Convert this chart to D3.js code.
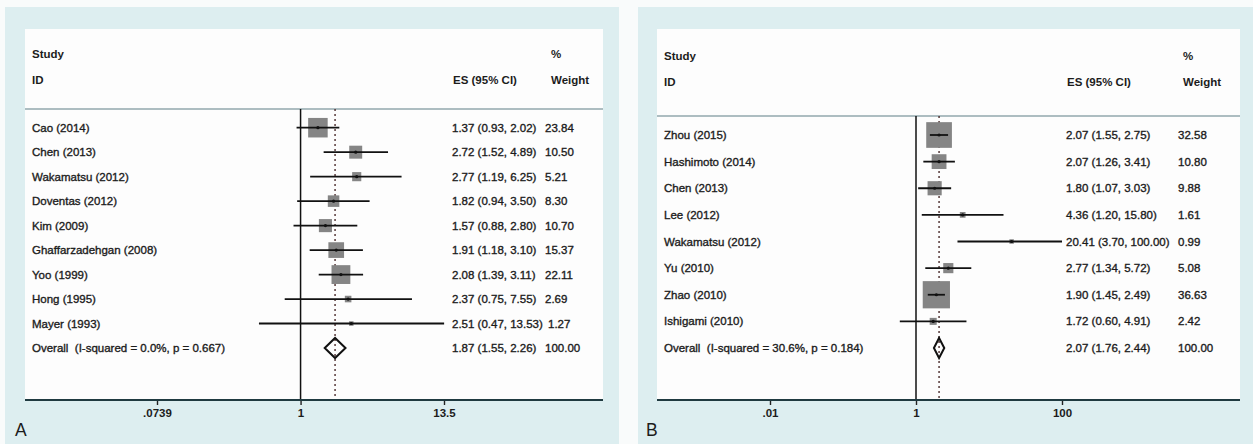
<!DOCTYPE html>
<html>
<head>
<meta charset="utf-8">
<script src="https://cdn.jsdelivr.net/npm/d3@7"></script>
<style>
  html, body { margin: 0; padding: 0; background: #ffffff; }
  svg { display: block; }
  text { font-family: "Liberation Sans", Arial, sans-serif; fill: #1c1c1c; white-space: pre; }
  .body text { stroke: #1c1c1c; stroke-width: 0.35px; }
</style>
</head>
<body>
<svg id="chart" width="1253" height="444"></svg>
<script>
// ---- Panel A: study-level odds ratios ----
const studiesA = ["Cao (2014)", "Chen (2013)", "Wakamatsu (2012)", "Doventas (2012)", "Kim (2009)",
                  "Ghaffarzadehgan (2008)", "Yoo (1999)", "Hong (1995)", "Mayer (1993)"];
const esA      = [1.37, 2.72, 2.77, 1.82, 1.57, 1.91, 2.08, 2.37, 2.51];
const lowA     = [0.93, 1.52, 1.19, 0.94, 0.88, 1.18, 1.39, 0.75, 0.47];
const highA    = [2.02, 4.89, 6.25, 3.50, 2.80, 3.10, 3.11, 7.55, 13.53];
const weightA  = [23.84, 10.50, 5.21, 8.30, 10.70, 15.37, 22.11, 2.69, 1.27];
const overallA = { label: "Overall  (I-squared = 0.0%, p = 0.667)", es: 1.87, low: 1.55, high: 2.26, weight: 100.00 };
const ticksA   = [0.0739, 1, 13.5];
const tickLabelsA = [".0739", "1", "13.5"];

// ---- Panel B: study-level odds ratios ----
const studiesB = ["Zhou (2015)", "Hashimoto (2014)", "Chen (2013)", "Lee (2012)", "Wakamatsu (2012)",
                  "Yu (2010)", "Zhao (2010)", "Ishigami (2010)"];
const esB      = [2.07, 2.07, 1.80, 4.36, 20.41, 2.77, 1.90, 1.72];
const lowB     = [1.55, 1.26, 1.07, 1.20, 3.70, 1.34, 1.45, 0.60];
const highB    = [2.75, 3.41, 3.03, 15.80, 100.00, 5.72, 2.49, 4.91];
const weightB  = [32.58, 10.80, 9.88, 1.61, 0.99, 5.08, 36.63, 2.42];
const overallB = { label: "Overall  (I-squared = 30.6%, p = 0.184)", es: 2.07, low: 1.76, high: 2.44, weight: 100.00 };
const ticksB   = [0.01, 1, 100];
const tickLabelsB = [".01", "1", "100"];

const fmt = d3.format(".2f");
const svg = d3.select("#chart");

// page background
svg.append("rect").attr("width", 1253).attr("height", 444).attr("fill", "#f9fbfb");

function drawPanel(cfg) {
  const g = svg.append("g");
  // outer tinted frame
  g.append("rect").attr("x", cfg.frame[0]).attr("y", cfg.frame[1])
    .attr("width", cfg.frame[2] - cfg.frame[0]).attr("height", cfg.frame[3] - cfg.frame[1])
    .attr("fill", "#ddeef0");
  // plot region
  g.append("rect").attr("x", cfg.plot[0]).attr("y", cfg.plot[1])
    .attr("width", cfg.plot[2] - cfg.plot[0]).attr("height", cfg.plot[3] - cfg.plot[1])
    .attr("fill", "#fdfdfd");

  const rows = cfg.studies.map((s, i) => ({
    label: s, es: cfg.es[i], low: cfg.low[i], high: cfg.high[i], weight: cfg.weight[i]
  }));
  const allKeys = cfg.studies.concat([cfg.overall.label]);

  const x = d3.scaleLog().domain([cfg.ticks[0], cfg.ticks[2]]).range(cfg.tickRange);
  const y = d3.scalePoint().domain(allKeys).range(cfg.rowRange);

  const top = cfg.headerLine, bottom = cfg.plot[3];

  // header rule
  g.append("line").attr("x1", cfg.plot[0]).attr("x2", cfg.plot[2])
    .attr("y1", top).attr("y2", top).attr("stroke", "#5f7f86").attr("stroke-width", 1.2);

  // header text
  const hdr = g.append("g").attr("font-size", 11.5).attr("font-weight", "bold");
  hdr.append("text").attr("x", cfg.labelX).attr("y", cfg.headY[0] + 4).text("Study");
  hdr.append("text").attr("x", cfg.labelX).attr("y", cfg.headY[1] + 4).text("ID");
  hdr.append("text").attr("x", cfg.esX + 1).attr("y", cfg.headY[1] + 4).text("ES (95% CI)");
  hdr.append("text").attr("x", cfg.wHeadX).attr("y", cfg.headY[0] + 4).text("%");
  hdr.append("text").attr("x", cfg.wHeadX).attr("y", cfg.headY[1] + 4).text("Weight");

  // line of no effect
  g.append("line").attr("x1", x(1)).attr("x2", x(1)).attr("y1", top).attr("y2", bottom)
    .attr("stroke", "#111").attr("stroke-width", 1.5);

  // pooled-estimate reference line
  g.append("line").attr("x1", x(cfg.overall.es)).attr("x2", x(cfg.overall.es))
    .attr("y1", top).attr("y2", bottom)
    .attr("stroke", "#4a2c2c").attr("stroke-width", 1.4).attr("stroke-dasharray", "2,3");

  // weight boxes
  g.selectAll("rect.box").data(rows).join("rect").attr("class", "box")
    .attr("x", d => x(d.es) - cfg.boxK * Math.sqrt(d.weight) / 2)
    .attr("y", d => y(d.label) - cfg.boxK * Math.sqrt(d.weight) / 2)
    .attr("width", d => cfg.boxK * Math.sqrt(d.weight))
    .attr("height", d => cfg.boxK * Math.sqrt(d.weight))
    .attr("fill", "#858585");

  // confidence intervals
  g.selectAll("line.ci").data(rows).join("line").attr("class", "ci")
    .attr("x1", d => x(d.low)).attr("x2", d => x(d.high))
    .attr("y1", d => y(d.label)).attr("y2", d => y(d.label))
    .attr("stroke", "#111").attr("stroke-width", 1.8);

  // point estimates
  g.selectAll("circle.pt").data(rows).join("circle").attr("class", "pt")
    .attr("cx", d => x(d.es)).attr("cy", d => y(d.label)).attr("r", 1.6)
    .attr("fill", "#111");

  // pooled diamond
  const oy = y(cfg.overall.label);
  const dh = 10;
  g.append("path")
    .attr("d", `M${x(cfg.overall.low)},${oy} L${x(cfg.overall.es)},${oy - dh} L${x(cfg.overall.high)},${oy} L${x(cfg.overall.es)},${oy + dh} Z`)
    .attr("fill", "none").attr("stroke", "#111").attr("stroke-width", 2);

  // row text
  const txt = g.append("g").attr("class", "body").attr("font-size", 11.5);
  const allRows = rows.concat([cfg.overall]);
  txt.selectAll("text.lab").data(allRows).join("text").attr("class", "lab")
    .attr("x", cfg.labelX).attr("y", d => y(d.label) + 4).text(d => d.label);
  txt.selectAll("text.es").data(allRows).join("text").attr("class", "es")
    .attr("x", cfg.esX).attr("y", d => y(d.label) + 4)
    .text(d => `${fmt(d.es)} (${fmt(d.low)}, ${fmt(d.high)})`);
  txt.selectAll("text.w").data(allRows).join("text").attr("class", "w")
    .attr("x", (d, i) => (cfg.wAfter && d.high >= 10 && i < rows.length) ? cfg.wAfter : cfg.wX)
    .attr("y", d => y(d.label) + 4).text(d => fmt(d.weight));

  // x axis
  const axis = d3.axisBottom(x).tickValues(cfg.ticks)
    .tickFormat((d, i) => cfg.tickLabels[i]).tickSize(5).tickSizeOuter(0).tickPadding(4);
  const ax = g.append("g").attr("transform", `translate(0,${bottom})`).call(axis);
  ax.select(".domain").remove();
  ax.selectAll(".tick line").attr("stroke", "#222").attr("stroke-width", 1.4);
  ax.selectAll(".tick text").attr("font-size", 11.5).attr("font-weight", "bold")
    .attr("font-family", "'Liberation Sans', Arial, sans-serif").attr("fill", "#1c1c1c");
  g.append("line").attr("x1", cfg.plot[0]).attr("x2", cfg.plot[2])
    .attr("y1", bottom).attr("y2", bottom).attr("stroke", "#1f3a40").attr("stroke-width", 1.8);

  // panel letter
  g.append("text").attr("x", cfg.letterX).attr("y", 436).attr("font-size", 17.5)
    .text(cfg.letter);
}

drawPanel({
  studies: studiesA, es: esA, low: lowA, high: highA, weight: weightA, overall: overallA,
  ticks: ticksA, tickLabels: tickLabelsA, tickRange: [157, 444],
  frame: [5, 7, 619, 444], plot: [25, 29, 603, 400],
  headerLine: 109, rowRange: [127.7, 348], headY: [54, 80],
  labelX: 32, esX: 452, wX: 545, wAfter: 548, wHeadX: 551,
  boxK: 4.0, letter: "A", letterX: 15
});

drawPanel({
  studies: studiesB, es: esB, low: lowB, high: highB, weight: weightB, overall: overallB,
  ticks: ticksB, tickLabels: tickLabelsB, tickRange: [770, 1062],
  frame: [638, 7, 1253, 444], plot: [657, 29, 1240, 400],
  headerLine: 116, rowRange: [135, 348], headY: [56, 82],
  labelX: 664, esX: 1066, wX: 1178, wAfter: null, wHeadX: 1183,
  boxK: 4.5, letter: "B", letterX: 646
});
</script>
</body>
</html>
